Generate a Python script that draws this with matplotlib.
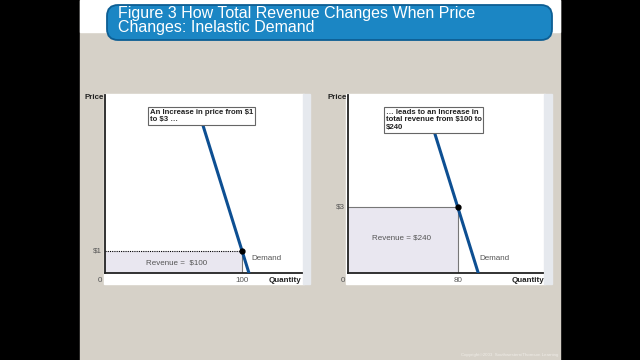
import matplotlib.pyplot as plt
from matplotlib.patches import FancyBboxPatch, Rectangle

plt.rcParams['font.family'] = ['Liberation Sans', 'DejaVu Sans']

# data
title = "Figure 3 How Total Revenue Changes When Price\nChanges: Inelastic Demand"
left_demand_q = [69, 105]
left_demand_p = [7.2, 0]
right_demand_q = [60, 95]
right_demand_p = [7.0, 0]
left_point = (100, 1)
right_point = (80, 3)
left_note = "An Increase in price from $1\nto $3 …"
right_note = "… leads to an Increase in\ntotal revenue from $100 to\n$240"
left_rev = "Revenue =  $100"
right_rev = "Revenue = $240"

W, H = 640, 360
fig = plt.figure(figsize=(6.4, 3.6), dpi=100)
fig.patch.set_facecolor('black')

# background axes in pixel coordinates (y down)
bg = fig.add_axes([0, 0, 1, 1], zorder=0)
bg.set_xlim(0, W)
bg.set_ylim(H, 0)
bg.axis('off')
bg.patch.set_alpha(0)


def prect(x0, y0, x1, y1, **kw):
    bg.add_patch(Rectangle((x0, y0), x1 - x0, y1 - y0, **kw))


# slide background
prect(80, 0, 560, 360, color='#d6d1c8')
prect(80, 0, 560, 32, color='white')
# title bar
bg.add_patch(FancyBboxPatch((107, 5), 445, 35, boxstyle="round,pad=0,rounding_size=11",
                            facecolor='#1b86c4', edgecolor='#0d5e93', linewidth=1.3))
bg.text(118, 20.5, title, color='white', fontsize=11.5, va='center', linespacing=0.92)
bg.text(558, 355, "Copyright©2003  Southwestern/Thomson Learning",
        color='#f0ede8', fontsize=3.2, ha='right', va='center')

# white panels behind the graphs
prect(104, 94, 304, 284, color='white')
prect(303, 94, 310, 284, color='#e6e9ee')
prect(346, 94, 545, 284, color='white')
prect(544, 94, 552, 284, color='#e6e9ee')

px_per_q = 1.37
px_per_p = 22.0


def panel(x0, x1, ytop, yaxis):
    ax = fig.add_axes([x0 / W, 1 - yaxis / H, (x1 - x0) / W, (yaxis - ytop) / H], zorder=2)
    ax.set_xlim(0, (x1 - x0) / px_per_q)
    ax.set_ylim(0, (yaxis - ytop) / px_per_p)
    ax.patch.set_alpha(0)
    for s in ['top', 'right']:
        ax.spines[s].set_visible(False)
    for s in ['left', 'bottom']:
        ax.spines[s].set_linewidth(1.3)
        ax.spines[s].set_color('#222222')
    ax.set_xticks([])
    ax.set_yticks([])
    return ax


lab = dict(fontsize=5.8, color='#555555')
bold = dict(fontsize=5.8, fontweight='bold', color='#222222')
note = dict(ha='left', va='top', fontsize=5.6, fontweight='bold', color='#222222',
            zorder=6, linespacing=1.1,
            bbox=dict(boxstyle='square,pad=0.25', facecolor='white', edgecolor='#666666',
                      linewidth=0.8))

# left panel
ax1 = panel(105, 302, 95, 272.7)
q, p = left_point
ax1.add_patch(Rectangle((0, 0), q, p, facecolor='#e9e7f0', edgecolor='none', zorder=1))
ax1.plot([0, q], [p, p], color='black', linestyle=(0, (1, 1)), linewidth=0.8, zorder=2)
ax1.plot([q, q], [0, p], color='#777777', linewidth=0.8, zorder=2)
ax1.plot(left_demand_q, left_demand_p, color='#0d4f92', linewidth=2.2, zorder=3)
ax1.plot([q], [p], 'o', color='black', markersize=3.5, zorder=4)
ax1.text(52, 0.45, left_rev, ha='center', va='center', **lab)
ax1.text(107, 0.65, "Demand", ha='left', va='center', **lab)
ax1.text(-2, p, "$1", ha='right', va='center', **lab)
ax1.text(-2, -0.35, "0", ha='right', va='center', **lab)
ax1.text(q, -0.35, "100", ha='center', va='center', **lab)
ax1.text(143, -0.35, "Quantity", ha='right', va='center', **bold)
ax1.text(-0.5, 7.95, "Price", ha='right', va='center', **bold)
ax1.text(33, 7.45, left_note, **note)

# right panel
ax2 = panel(348, 543, 95, 272.7)
q, p = right_point
ax2.add_patch(Rectangle((0, 0), q, p, facecolor='#e9e7f0', edgecolor='none', zorder=1))
ax2.plot([0, q, q], [p, p, 0], color='#777777', linewidth=0.8, zorder=2)
ax2.plot(right_demand_q, right_demand_p, color='#0d4f92', linewidth=2.2, zorder=3)
ax2.plot([q], [p], 'o', color='black', markersize=3.5, zorder=4)
ax2.text(39, 1.6, right_rev, ha='center', va='center', **lab)
ax2.text(96, 0.65, "Demand", ha='left', va='center', **lab)
ax2.text(-2, p, "$3", ha='right', va='center', **lab)
ax2.text(-2, -0.35, "0", ha='right', va='center', **lab)
ax2.text(q, -0.35, "80", ha='center', va='center', **lab)
ax2.text(143, -0.35, "Quantity", ha='right', va='center', **bold)
ax2.text(-0.5, 7.95, "Price", ha='right', va='center', **bold)
ax2.text(27.5, 7.45, right_note, **note)

fig.savefig('out.png', dpi=100, facecolor='black')
